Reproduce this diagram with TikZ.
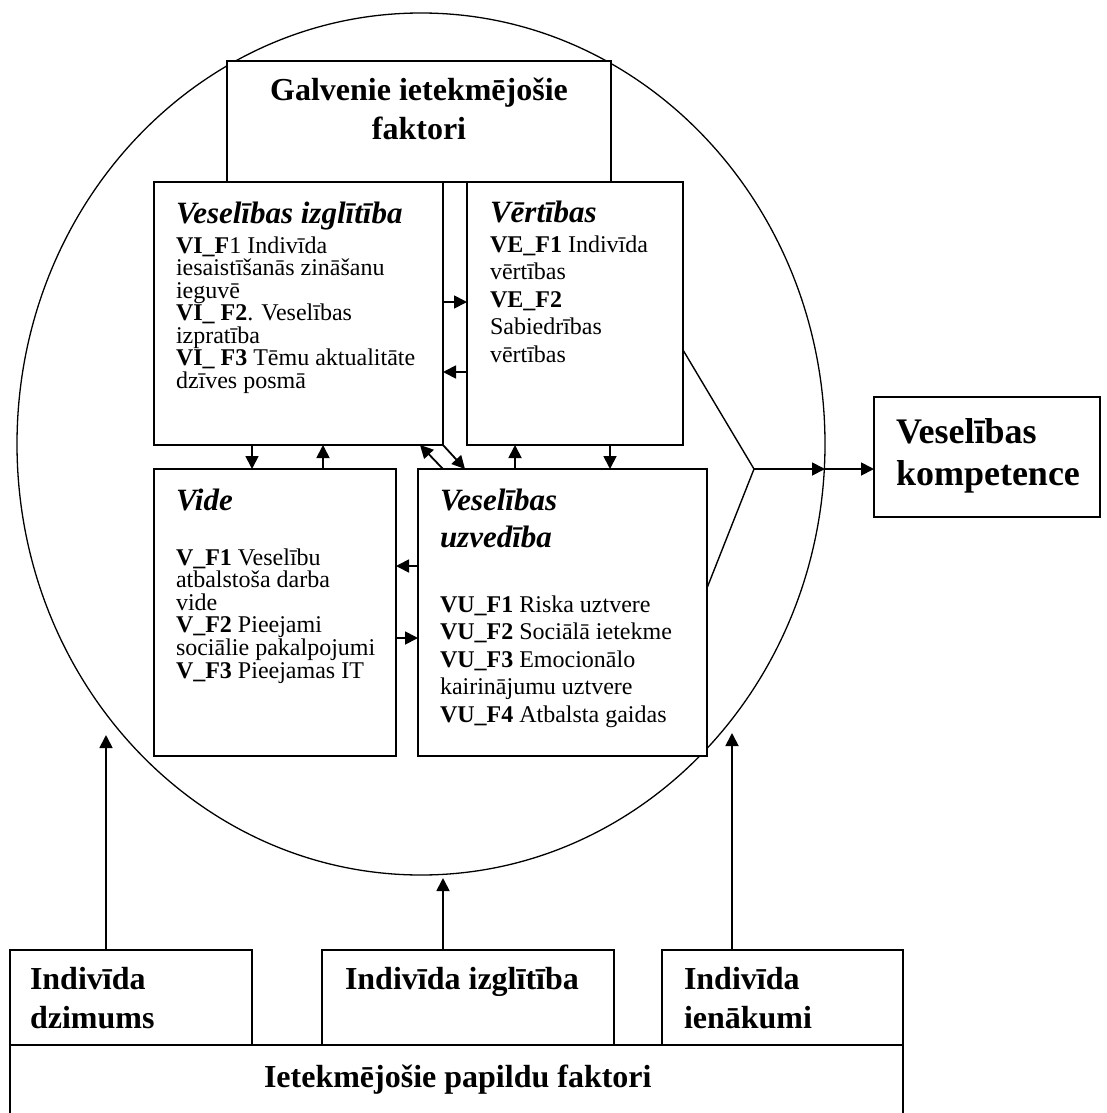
\documentclass[tikz,border=0pt]{standalone}
\usepackage{fontspec}
\setmainfont{Liberation Serif}
\usetikzlibrary{arrows.meta,shapes.geometric}
\tikzset{
  frame/.style={draw, line width=1.8pt, fill=white, inner sep=0pt, outer sep=0pt},
  link/.style={line width=1.8pt, -{Triangle[length=13pt,width=13pt]}},
  plain/.style={line width=1.4pt},
  txt/.style={anchor=base west, inner sep=0pt, outer sep=0pt},
}
% body text block: first argument is the width, second the line spacing
\newcommand{\bodyblock}[3]{\parbox[t]{#1}{\raggedright\fontsize{24}{#2}\selectfont\lineskiplimit=-50pt\lineskip=0pt #3}}
\newcommand{\headblock}[2]{\parbox[t]{#1}{\raggedright\fontsize{31}{37}\selectfont\lineskiplimit=-50pt\lineskip=0pt\bfseries\itshape #2}}
\begin{document}
\begin{tikzpicture}[x=1pt, y=-1pt]
\useasboundingbox (0,0) rectangle (1106,1113);
\clip (0,0) rectangle (1106,1113);

% outer ring
\node[draw, ellipse, line width=1.3pt, minimum width=808pt, minimum height=862pt,
      inner sep=0pt, outer sep=0pt] (ring) at (421,444) {};

% boxes
\node[frame, minimum width=384pt, minimum height=121pt] (gal)  at (419,121.5) {};
\node[frame, minimum width=289pt, minimum height=263pt] (vi)   at (298.5,313.5) {};
\node[frame, minimum width=216pt, minimum height=263pt] (ve)   at (575,313.5) {};
\node[frame, minimum width=242pt, minimum height=287pt] (vide) at (275,612.5) {};
\node[frame, minimum width=289pt, minimum height=287pt] (vu)   at (562.5,612.5) {};
\node[frame, minimum width=226pt, minimum height=120pt] (komp) at (987,457) {};
\node[frame, minimum width=242pt, minimum height=95pt]  (dz)   at (131,997.5) {};
\node[frame, minimum width=292pt, minimum height=95pt]  (izg)  at (468,997.5) {};
\node[frame, minimum width=241pt, minimum height=95pt]  (ien)  at (782.5,997.5) {};
\node[frame, minimum width=893pt, minimum height=80pt]  (pap)  at (456.5,1085) {};

% texts
\node[anchor=base, inner sep=0pt] (galtxt) at (419,101)
  {\parbox[t]{384pt}{\centering\fontsize{32}{39}\selectfont\bfseries Galvenie ietekmējošie\\ faktori}};

\node[txt] (vihead) at (176,223) {\headblock{270pt}{Veselības izglītība}};
\node[txt] (vibody) at (176,253) {\bodyblock{265pt}{22.5}{%
\textbf{VI\_F}1 Indivīda\\
iesaistīšanās zināšanu\\
ieguvē\\
\textbf{VI\_ F2}. Veselības\\
izpratība\\
\textbf{VI\_ F3} Tēmu aktualitāte\\
dzīves posmā}};

\node[txt] (vehead) at (490,222) {\headblock{190pt}{Vērtības}};
\node[txt] (vebody) at (490,252) {\bodyblock{190pt}{27.5}{%
\textbf{VE\_F1} Indivīda\\
vērtības\\
\textbf{VE\_F2}\\
Sabiedrības\\
vērtības}};

\node[txt] (videhead) at (176,510) {\headblock{210pt}{Vide}};
\node[txt] (videbody) at (176,565) {\bodyblock{215pt}{22.6}{%
\textbf{V\_F1} Veselību\\
atbalstoša darba\\
vide\\
\textbf{V\_F2} Pieejami\\
sociālie pakalpojumi\\
\textbf{V\_F3} Pieejamas IT}};

\node[txt] (vuhead) at (440,510) {\headblock{260pt}{Veselības\\ uzvedība}};
\node[txt] (vubody) at (440,612) {\bodyblock{262pt}{27.5}{%
\textbf{VU\_F1} Riska uztvere\\
\textbf{VU\_F2} Sociālā ietekme\\
\textbf{VU\_F3} Emocionālo\\
kairinājumu uztvere\\
\textbf{VU\_F4} Atbalsta gaidas}};

\node[txt] (komptxt) at (896,443)
  {\parbox[t]{200pt}{\fontsize{36}{42}\selectfont\bfseries Veselības\\ kompetence}};

\node[txt] (dztxt) at (30,989)
  {\parbox[t]{215pt}{\fontsize{32}{39}\selectfont\bfseries Indivīda\\ dzimums}};
\node[txt] (izgtxt) at (345,989)
  {\parbox[t]{265pt}{\fontsize{32}{39}\selectfont\bfseries Indivīda izglītība}};
\node[txt] (ientxt) at (684,989)
  {\parbox[t]{215pt}{\fontsize{32}{39}\selectfont\bfseries Indivīda\\ ienākumi}};
\node[txt] (paptxt) at (264,1087)
  {\fontsize{32}{39}\selectfont\bfseries Ietekmējošie papildu faktori};

% links among the four inner boxes
\draw[link] ([yshift=-120pt]vi.north east) -- ([yshift=-120pt]ve.north west);
\draw[link] ([yshift=-190pt]ve.north west) -- ([yshift=-190pt]vi.north east);
\draw[link] ([xshift=98pt]vi.south west) -- ([xshift=98pt]vide.north west);
\draw[link] ([xshift=169pt]vide.north west) -- ([xshift=169pt]vi.south west);
\draw[link] ([yshift=-97pt]vu.north west) -- ([yshift=-97pt]vide.north east);
\draw[link] ([yshift=-169pt]vide.north east) -- ([yshift=-169pt]vu.north west);
\draw[link] ([xshift=97pt]vu.north west) -- ([xshift=97pt]vu.north west |- ve.south);
\draw[link] ([xshift=192pt]vu.north west |- ve.south) -- ([xshift=192pt]vu.north west);
\draw[link] ([xshift=25pt]vu.north west) -- ([xshift=-23pt]vi.south east);
\draw[link] (vi.south east) -- ([xshift=47pt]vu.north west);

% merge towards the outcome
\coordinate (jn) at (754,469);
\coordinate (rim) at (825,469);
\draw[plain] ([yshift=-168pt]ve.north east) -- (jn) -- ([yshift=-119pt]vu.north east);
\draw[link] (jn) -- (rim);
\draw[link] (rim) -- (rim -| komp.west);

% additional factors pointing into the ring
\coordinate (t1) at (106,735);
\coordinate (t2) at (443,878);
\coordinate (t3) at (732,733);
\draw[link] (t1 |- dz.north) -- (t1);
\draw[link] (t2 |- izg.north) -- (t2);
\draw[link] (t3 |- ien.north) -- (t3);
\end{tikzpicture}
\end{document}
